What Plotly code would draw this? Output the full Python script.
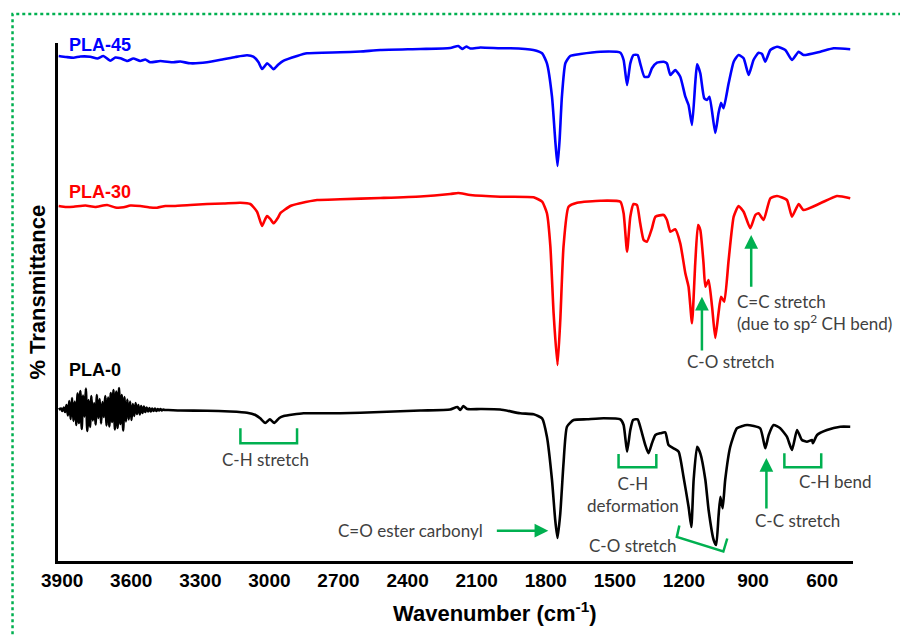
import plotly.graph_objects as go

# ---------------- data (wavenumber in cm-1, transmittance in stacked arbitrary % units) ----------------
wn_pla45 = [3915, 3882, 3850, 3821, 3778, 3747, 3721, 3691, 3669, 3647, 3617, 3591, 3561, 3539, 3517,
            3474, 3417, 3387, 3344, 3271, 3200, 3148, 3097, 3070, 3048, 3032, 3020, 3010, 2996, 2982,
            2961, 2938, 2880, 2837, 2692, 2605, 2518, 2345, 2215, 2180, 2163, 2145, 2128, 2084, 1998,
            1954, 1854, 1816, 1795, 1773, 1759, 1749, 1740, 1730, 1715, 1694, 1650, 1563, 1476, 1462,
            1447, 1433, 1419, 1401, 1390, 1372, 1354, 1339, 1317, 1288, 1274, 1259, 1238, 1216, 1194,
            1180, 1165, 1151, 1143, 1129, 1112, 1100, 1089, 1064, 1050, 1039, 1028, 1006, 984, 963,
            941, 919, 898, 876, 861, 847, 825, 796, 760, 731, 702, 681, 608, 550, 478]
t_pla45 = [101, 100.8, 100.66, 100.9, 100.86, 100.5, 101, 100.06, 100.7, 100.54, 100, 100.5, 100, 100.3, 99.74,
           100, 99.74, 99.9, 99.54, 99.74, 100.34, 100.8, 101.14, 100.86, 99.8, 98.4, 99, 99.54, 99, 98.34,
           99.3, 100.06, 101, 101.54, 101.74, 101.9, 102.2, 102.4, 102.6, 103, 102.4, 102.9, 102.5, 102.7, 102.54,
           102.54, 102.2, 101.54, 99.54, 92.86, 84.2, 79, 84.2, 92.86, 99.54, 101, 101.4, 101.86, 101.66, 100.2,
           95.2, 99.54, 101.2, 101.2, 99.54, 96.86, 96.86, 98.54, 99.66, 99.86, 99.54, 97.2, 98.2, 96.86, 92.86,
           91.2, 87.2, 95.54, 99.34, 97.54, 92.54, 92.2, 92.86, 85.6, 89.54, 91.66, 90.54, 95.54, 99.86, 101.2,
           100.54, 97.2, 100.2, 101.66, 101.4, 99.86, 102.2, 102.86, 102.2, 100.2, 101.86, 101.2, 101.86, 102.54, 102.34]

wn_pla30 = [3915, 3882, 3850, 3799, 3756, 3705, 3669, 3633, 3604, 3561, 3517, 3488, 3452, 3416, 3344,
            3271, 3200, 3126, 3083, 3054, 3032, 3020, 3010, 2996, 2982, 2961, 2953, 2909, 2866, 2793,
            2692, 2518, 2345, 2215, 2180, 2128, 1998, 1853, 1816, 1795, 1780, 1766, 1749, 1737, 1723,
            1701, 1664, 1563, 1476, 1462, 1447, 1433, 1419, 1404, 1390, 1375, 1361, 1339, 1324, 1288,
            1274, 1259, 1238, 1216, 1194, 1180, 1165, 1151, 1139, 1129, 1115, 1107, 1093, 1078, 1064,
            1050, 1039, 1025, 1006, 984, 963, 941, 912, 890, 876, 854, 825, 796, 753, 731,
            702, 681, 608, 536, 478]
t_pla30 = [71, 70.8, 70.86, 71.1, 70.8, 71.2, 70.7, 70.74, 71.1, 71, 70.7, 70.66, 71, 71, 71.2,
           71.4, 71.5, 71.66, 71.4, 69.86, 67, 68.2, 69, 68.4, 67.54, 68.8, 69.54, 71, 71.54, 72.2,
           72.34, 72.6, 72.9, 73.4, 73.6, 73.2, 72.86, 72.74, 71.86, 69.54, 62.86, 49.54, 39.2, 48.2, 62.86,
           70.86, 71.66, 72.06, 71.86, 69.54, 61.86, 68.86, 71.4, 71.2, 67.54, 64.2, 63.86, 66.54, 68.86, 69.2,
           68.2, 65.86, 66.34, 63.54, 57.54, 54.86, 47.54, 59.54, 67.2, 66.2, 59.54, 54.86, 56.2, 50.86, 44.6,
           49.54, 52.86, 51.86, 60.2, 68.86, 71, 69.86, 66.54, 69.2, 69.54, 68.2, 72.54, 73, 72.2, 68.86,
           71.4, 70.2, 71.54, 73, 72.54]

wn_pla0 = [3915, 3905, 3899, 3893, 3887, 3881, 3875, 3869, 3863, 3857, 3851, 3845, 3839, 3833, 3827,
           3821, 3815, 3809, 3803, 3797, 3791, 3785, 3779, 3773, 3767, 3761, 3755, 3749, 3743, 3737,
           3731, 3725, 3719, 3713, 3707, 3701, 3695, 3689, 3683, 3677, 3671, 3665, 3659, 3653, 3647,
           3641, 3635, 3629, 3623, 3617, 3611, 3605, 3599, 3593, 3587, 3581, 3575, 3569, 3563, 3557,
           3551, 3545, 3539, 3533, 3527, 3521, 3515, 3509, 3503, 3497, 3491, 3485, 3479, 3473, 3467,
           3461, 3455,
           3440, 3387, 3270, 3170, 3097, 3061, 3040, 3018, 2998, 2979, 2957, 2938, 2852, 2692, 2518,
           2345, 2215, 2184, 2171, 2158, 2141, 2084, 1998, 1911, 1853, 1816, 1795, 1773, 1759, 1749,
           1737, 1723, 1708, 1679, 1621, 1549, 1476, 1462, 1447, 1433, 1421, 1401, 1390, 1368, 1354,
           1339, 1324, 1303, 1281, 1267, 1245, 1223, 1202, 1180, 1168, 1158, 1143, 1129, 1107, 1093,
           1071, 1060, 1050, 1042, 1032, 1021, 999, 970, 926, 869, 847, 832, 811, 782, 753,
           731, 709, 688, 666, 644, 640, 622, 579, 521, 478]
t_pla0 = [30.3, 30.5, 30.0, 30.7, 29.8, 31.2, 29.1, 32.0, 28.4, 32.6, 28.0, 31.9, 27.2, 33.5, 27.6,
          34.0, 26.4, 33.1, 28.9, 34.5, 26.0, 32.2, 26.8, 33.0, 28.1, 31.6, 27.3, 33.2, 28.6, 32.4,
          27.5, 31.8, 28.8, 33.0, 27.1, 32.7, 26.9, 33.6, 27.8, 34.2, 26.3, 33.9, 26.6, 34.6, 27.4,
          33.2, 26.1, 32.8, 27.9, 32.3, 28.3, 31.9, 28.2, 31.4, 29.0, 31.6, 29.4, 31.2, 29.3, 31.0,
          29.6, 30.9, 29.8, 30.7, 29.9, 30.6, 29.9, 30.5, 30.0, 30.5, 30.0, 30.4, 30.1, 30.4, 30.1,
          30.3, 30.2,
          30.2, 30.1, 30.06, 29.9, 29.66, 29.2, 28.54, 27.6, 28.34, 27.6, 28.6, 29, 29.54, 29.54, 29.8,
          30.1, 30.3, 30.8, 30.2, 31, 30.4, 30.4, 30.3, 29.54, 29.34, 28.54, 24.86, 16.2, 8.2, 4.6,
          9.54, 19.54, 26.86, 28.2, 28.34, 28.54, 28.34, 27.2, 21.86, 26.2, 28.2, 28.34, 26.86, 23.2, 21.54,
          23.54, 25.2, 25.54, 25.74, 23.2, 22.54, 21.86, 16.86, 10.86, 6.8, 16.2, 22.86, 21.54, 16.2, 10.2,
          4.2, 3.2, 8.86, 12.86, 10.54, 16.2, 22.86, 26.54, 27.2, 26.54, 22.54, 25.2, 27.2, 26.54, 24.86,
          22.2, 26.2, 24.2, 23.86, 24.2, 23.54, 25.2, 26.2, 26.86, 26.86]

tick_vals = [3900, 3600, 3300, 3000, 2700, 2400, 2100, 1800, 1500, 1200, 900, 600]
tick_text = [str(v) for v in tick_vals]

series_names = ["PLA-45", "PLA-30", "PLA-0"]
series_colors = ["#0000FF", "#FF0000", "#000000"]

GREEN = "#00B050"
TXT = "#404040"
ANN_FONT = dict(family="Lato, Carlito, sans-serif", size=17, color=TXT)
BOLD_FAM = "Liberation Sans, Arial, sans-serif"

fig = go.Figure()
for wn, t, name, col in [(wn_pla45, t_pla45, series_names[0], series_colors[0]),
                         (wn_pla30, t_pla30, series_names[1], series_colors[1]),
                         (wn_pla0, t_pla0, series_names[2], series_colors[2])]:
    fig.add_trace(go.Scatter(x=wn, y=t, mode="lines", name=name,
                             line=dict(color=col, width=2.6, shape="spline", smoothing=0.5),
                             showlegend=False, hoverinfo="skip"))

# series labels
for name, col, xv, yv in [(series_names[0], series_colors[0], 3880, 103.2),
                          (series_names[1], series_colors[1], 3880, 73.9),
                          (series_names[2], series_colors[2], 3880, 38.2)]:
    fig.add_annotation(x=xv, y=yv, xref="x", yref="y", text=name, showarrow=False,
                       xanchor="left", yanchor="middle",
                       font=dict(family=BOLD_FAM, size=18, color=col, weight="bold"))

# brackets (green)
def bracket(x1, x2, ytop, ybot):
    return f"M {x1},{ytop} L {x1},{ybot} L {x2},{ybot} L {x2},{ytop}"

shapes = [
    dict(type="path", xref="x", yref="y", path=bracket(3126, 2880, 26.54, 23.54),
         line=dict(color=GREEN, width=2.5)),
    dict(type="path", xref="x", yref="y", path=bracket(1484, 1320, 21.4, 18.74),
         line=dict(color=GREEN, width=2.5)),
    dict(type="path", xref="x", yref="y", path=bracket(764, 604, 21.54, 18.74),
         line=dict(color=GREEN, width=2.5)),
    dict(type="path", xref="x", yref="y", path="M 1220,7.1 L 1231,4.8 L 1029,1.9 L 1012,4.5",
         line=dict(color=GREEN, width=2.5)),
    # dotted frame around figure (bottom edge falls just outside the window, as in the reference)
    dict(type="rect", xref="paper", yref="paper", x0=-0.0572, x1=1.0654, y0=-0.156, y1=1.056,
         line=dict(color=GREEN, width=2.5, dash="dot"), layer="above"),
]

# arrows (tip = x,y ; tail = ax,ay)
for tip_x, tip_y, tail_x, tail_y in [(1789, 6.06, 2019, 6.06),
                                     (842, 20.6, 842, 10.2),
                                     (1122, 52.86, 1122, 41.8),
                                     (908, 65.2, 908, 54.54)]:
    fig.add_annotation(x=tip_x, y=tip_y, ax=tail_x, ay=tail_y, xref="x", yref="y",
                       axref="x", ayref="y", text="", showarrow=True, arrowhead=2,
                       arrowsize=1.1, arrowwidth=2.5, arrowcolor=GREEN, standoff=0)

# annotation texts
for txt, xv, yv, xa, al in [("C-H stretch", 3018, 20.34, "center", "center"),
                            ("C-H<br>deformation", 1420, 13.4, "center", "center"),
                            ("C=O ester carbonyl", 2388, 6.06, "center", "center"),
                            ("C-O stretch", 1420, 3.06, "center", "center"),
                            ("C-C stretch", 708, 8.2, "center", "center"),
                            ("C-H bend", 543, 15.86, "center", "center"),
                            ("C-O stretch", 994, 39.86, "center", "center"),
                            ("C=C stretch<br>(due to sp<sup>2</sup> CH bend)", 977, 49.8, "left", "left")]:
    fig.add_annotation(x=xv, y=yv, xref="x", yref="y", text=txt, showarrow=False,
                       xanchor=xa, yanchor="middle", align=al, font=ANN_FONT)

# axis titles
fig.add_annotation(x=-0.0252, y=0.52, xref="paper", yref="paper", text="% Transmittance",
                   textangle=-90, showarrow=False, xanchor="center", yanchor="middle",
                   font=dict(family=BOLD_FAM, size=22, color="#000000", weight="bold"))
fig.add_annotation(x=0.55, y=-0.0985, xref="paper", yref="paper", text="Wavenumber (cm<sup>-1</sup>)",
                   showarrow=False, xanchor="center", yanchor="middle",
                   font=dict(family=BOLD_FAM, size=22, color="#000000", weight="bold"))

# the page body adds an 8 px offset, so margins are reduced by 8 px on the left/top
fig.update_layout(
    width=908, height=637,
    margin=dict(l=50, r=63, t=35, b=84, pad=0),
    paper_bgcolor="white", plot_bgcolor="white",
    shapes=shapes,
    xaxis=dict(range=[3918, 466], tickvals=tick_vals, ticktext=tick_text, ticks="",
               showgrid=False, zeroline=False, showline=True, linecolor="black", linewidth=2.5,
               tickfont=dict(family=BOLD_FAM, size=19, color="#000000", weight="bold")),
    yaxis=dict(range=[0, 103.6], showticklabels=False, ticks="", showgrid=False, zeroline=False,
               showline=True, linecolor="black", linewidth=2.5),
)

fig.write_html("out.html")
